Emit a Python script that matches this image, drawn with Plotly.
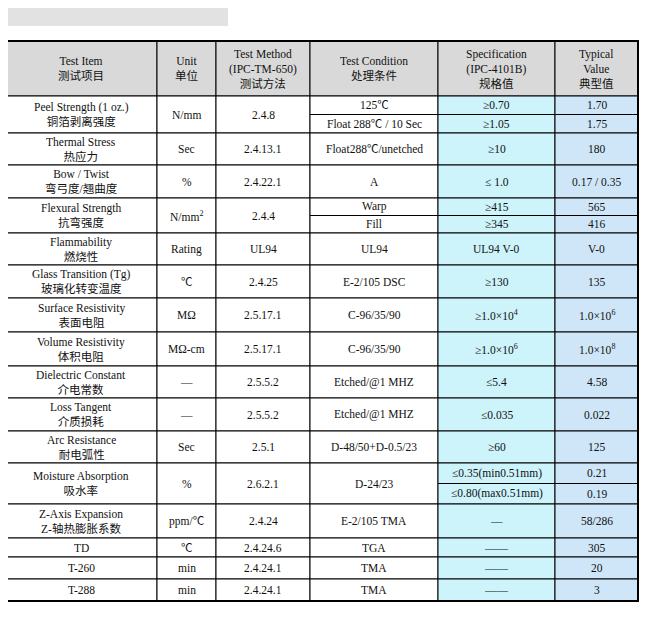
import plotly.graph_objects as go

items_en = ["Peel Strength (1 oz.)", "Thermal Stress", "Bow / Twist", "Flexural Strength", "Flammability",
            "Glass Transition (Tg)", "Surface Resistivity", "Volume Resistivity", "Dielectric Constant",
            "Loss Tangent", "Arc Resistance", "Moisture Absorption", "Z-Axis Expansion", "TD", "T-260", "T-288"]
items_cn = ["铜箔剥离强度", "热应力", "弯弓度/翘曲度", "抗弯强度", "燃烧性", "玻璃化转变温度", "表面电阻", "体积电阻",
            "介电常数", "介质损耗", "耐电弧性", "吸水率", "Z-轴热膨胀系数", "", "", ""]
units = ["N/mm", "Sec", "%", "N/mm<sup>2</sup>", "Rating", "℃", "MΩ", "MΩ-cm", "—", "—", "Sec", "%", "ppm/℃", "℃", "min", "min"]
methods = ["2.4.8", "2.4.13.1", "2.4.22.1", "2.4.4", "UL94", "2.4.25", "2.5.17.1", "2.5.17.1", "2.5.5.2", "2.5.5.2",
           "2.5.1", "2.6.2.1", "2.4.24", "2.4.24.6", "2.4.24.1", "2.4.24.1"]
conditions = [["125℃", "Float 288℃ / 10 Sec"], ["Float288℃/unetched"], ["A"], ["Warp", "Fill"], ["UL94"],
              ["E-2/105 DSC"], ["C-96/35/90"], ["C-96/35/90"], ["Etched/@1 MHZ"], ["Etched/@1 MHZ"],
              ["D-48/50+D-0.5/23"], ["D-24/23"], ["E-2/105 TMA"], ["TGA"], ["TMA"], ["TMA"]]
specs = [["≥0.70", "≥1.05"], ["≥10"], ["≤ 1.0"], ["≥415", "≥345"], ["UL94 V-0"], ["≥130"],
         ["≥1.0×10<sup>4</sup>"], ["≥1.0×10<sup>6</sup>"], ["≤5.4"], ["≤0.035"], ["≥60"],
         ["≤0.35(min0.51mm)", "≤0.80(max0.51mm)"], ["—"], ["——"], ["——"], ["——"]]
typicals = [["1.70", "1.75"], ["180"], ["0.17 / 0.35"], ["565", "416"], ["V-0"], ["135"],
            ["1.0×10<sup>6</sup>"], ["1.0×10<sup>8</sup>"], ["4.58"], ["0.022"], ["125"], ["0.21", "0.19"],
            ["58/286"], ["305"], ["20"], ["3"]]
headers = ["Test Item<br>测试项目", "Unit<br>单位", "Test Method<br>(IPC-TM-650)<br>测试方法",
           "Test Condition<br>处理条件", "Specification<br>(IPC-4101B)<br>规格值", "Typical<br>Value<br>典型值"]
title = "General Properties  一般特性"
remarks = "Remarks: Specimen    Thickness: 1.6 mm 1/1     样品厚度：1.6 mm 1/1"

# layout geometry (page pixels)
cols = [5, 157, 216, 310, 438, 555, 638]
head_top, head_bot = 41, 96
row_bounds = [96, 133, 165, 198, 233, 265, 298, 332, 366, 398, 431, 463, 504, 538, 557, 579, 601]
FONT = "Liberation Serif, Noto Sans CJK SC"
SPEC_BG, TYP_BG, HEAD_BG = "#cdf3fb", "#cfe6f8", "#d9d9d9"

shapes, ann = [], []
def rect(x0, y0, x1, y1, fill="white", lw=1):
    shapes.append(dict(type="rect", x0=x0, x1=x1, y0=y0, y1=y1, fillcolor=fill,
                       line=dict(color="black", width=lw), layer="below"))
def text(x, y, t, size=11.5):
    if not t:
        return
    ann.append(dict(x=x, y=y, text=t, showarrow=False, xanchor="center", yanchor="middle",
                    font=dict(family=FONT, size=size, color="#111")))

shapes.append(dict(type="rect", x0=5, x1=228, y0=3, y1=26, fillcolor="#e2e2e2", line=dict(width=0), layer="below"))
ann.append(dict(x=6, y=14, text=title, showarrow=False, xanchor="left", yanchor="middle",
                font=dict(family=FONT, size=18, color="#111")))

for j, h in enumerate(headers):
    rect(cols[j], head_top, cols[j+1], head_bot, HEAD_BG)
    text((cols[j]+cols[j+1])/2, (head_top+head_bot)/2, h)

for i in range(len(items_en)):
    y0, y1 = row_bounds[i], row_bounds[i+1]
    ym = (y0+y1)/2
    vals = [items_en[i] + ("<br>" + items_cn[i] if items_cn[i] else ""), units[i], methods[i]]
    for j, v in enumerate(vals):
        rect(cols[j], y0, cols[j+1], y1)
        text((cols[j]+cols[j+1])/2, ym, v)
    for k, col_vals in enumerate([conditions[i], specs[i], typicals[i]]):
        j = 3+k
        fill = ["white", SPEC_BG, TYP_BG][k]
        hh = (y1-y0)/len(col_vals)
        for s, v in enumerate(col_vals):
            a, b = y0+s*hh, y0+(s+1)*hh
            rect(cols[j], a, cols[j+1], b, fill)
            text((cols[j]+cols[j+1])/2, (a+b)/2, v)

shapes.append(dict(type="rect", x0=cols[0], x1=cols[-1], y0=head_top, y1=row_bounds[-1],
                   line=dict(color="black", width=2)))
ann.append(dict(x=5, y=610, text=remarks, showarrow=False, xanchor="left", yanchor="middle",
                font=dict(family=FONT, size=12, color="#111")))

# page has an 8px body margin: map axis units to page pixels
OFF = 8
fig = go.Figure()
fig.update_layout(width=660, height=620, margin=dict(l=0, r=0, t=0, b=0),
                  paper_bgcolor="white", plot_bgcolor="white", shapes=shapes, annotations=ann,
                  xaxis=dict(range=[OFF, 660+OFF], visible=False, fixedrange=True),
                  yaxis=dict(range=[620+OFF, OFF], visible=False, fixedrange=True), showlegend=False)
fig.write_html("out.html")
